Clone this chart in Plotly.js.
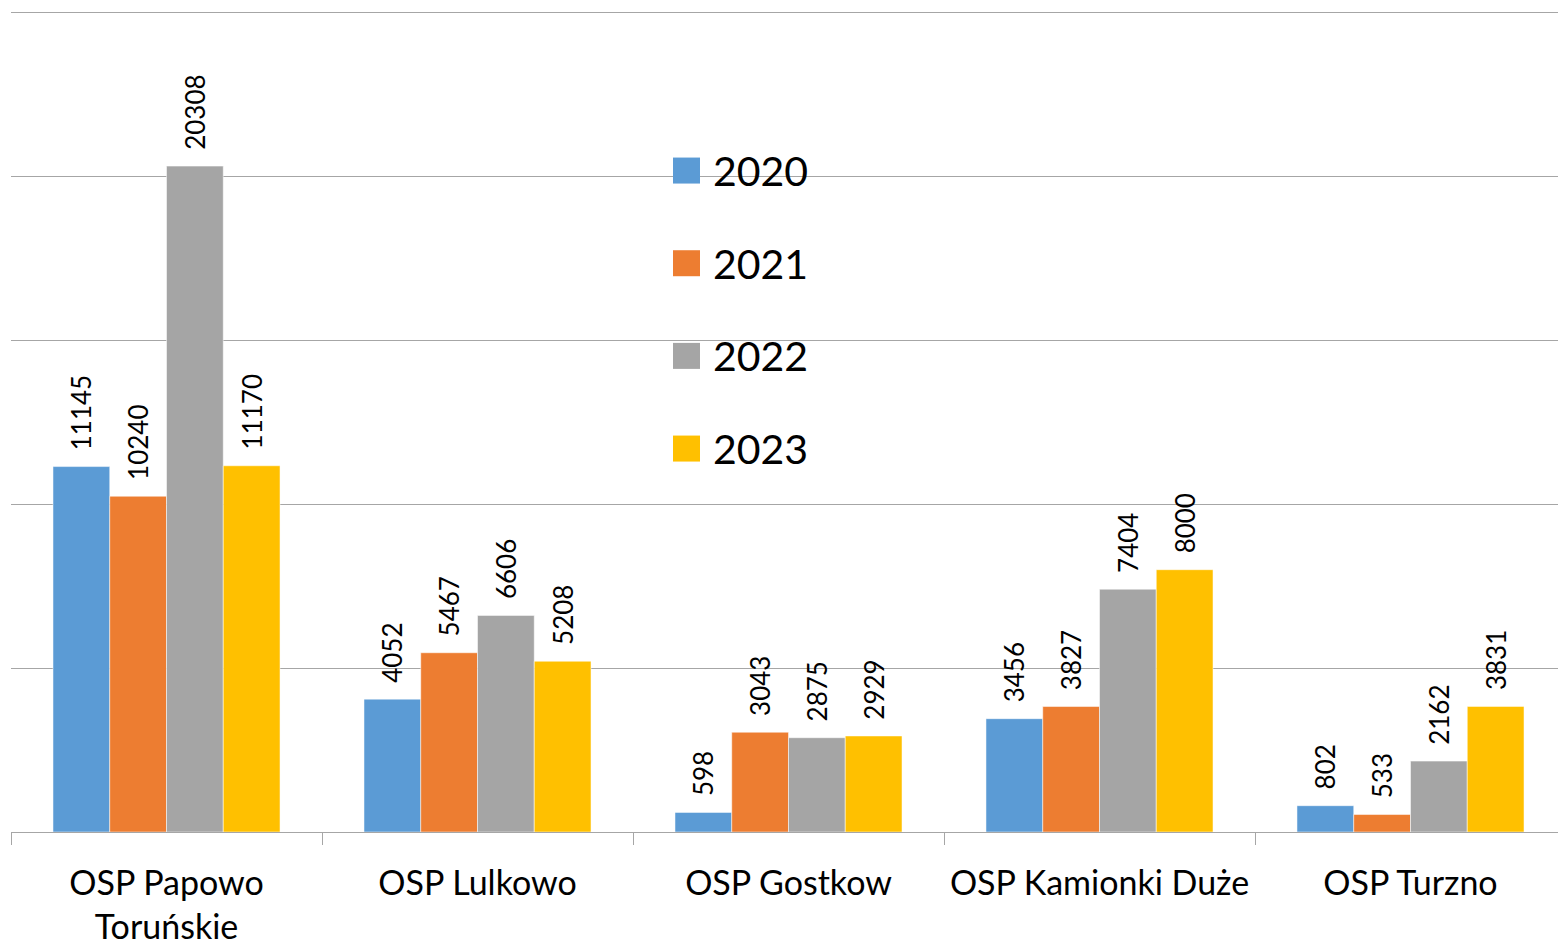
<!DOCTYPE html>
<html>
<head>
<meta charset="utf-8">
<script src="https://cdn.plot.ly/plotly-3.0.1.min.js"></script>
<style>
  html, body { margin: 0; padding: 0; background: #fff; overflow: hidden; }
  #chart { width: 1558px; height: 942px; overflow: hidden; }
</style>
</head>
<body>
<div id="chart"></div>
<script>
var categories = ['OSP Papowo<br>Toruńskie', 'OSP Lulkowo', 'OSP Gostkow', 'OSP Kamionki Duże', 'OSP Turzno'];
var years = ['2020', '2021', '2022', '2023'];
var colors = ['#5b9bd5', '#ed7d31', '#a5a5a5', '#ffc000'];
var values2020 = [11145, 4052, 598, 3456, 802];
var values2021 = [10240, 5467, 3043, 3827, 533];
var values2022 = [20308, 6606, 2875, 7404, 2162];
var values2023 = [11170, 5208, 2929, 8000, 3831];
var series = [values2020, values2021, values2022, values2023];

var font = 'Lato, "Noto Sans", sans-serif';
var gridColor = '#a6a6a6';

var traces = [];
for (var i = 0; i < series.length; i++) {
  traces.push({
    type: 'bar',
    name: years[i],
    x: categories,
    y: series[i],
    text: series[i].map(String),
    texttemplate: '\u00a0\u00a0%{text}',
    textposition: 'outside',
    textangle: -90,
    constraintext: 'none',
    textfont: { family: font, size: 26, color: '#000' },
    cliponaxis: false,
    marker: { color: colors[i], line: { color: 'rgba(255,255,255,0.5)', width: 1 } },
    showlegend: false
  });
}

// legend drawn as big squares + labels
var shapes = [], annotations = [];
var legX = 662 / 1555, legTextX = 700 / 1555, legTop = 0.8037, legStep = 0.1126;
for (var i = 0; i < years.length; i++) {
  var yy = legTop - i * legStep;
  shapes.push({
    type: 'rect', xref: 'paper', yref: 'paper',
    xsizemode: 'pixel', ysizemode: 'pixel',
    xanchor: legX, yanchor: yy,
    x0: 0, x1: 27, y0: -13, y1: 13,
    fillcolor: colors[i], line: { width: 0 }
  });
  annotations.push({
    xref: 'paper', yref: 'paper', x: legTextX, y: yy,
    xanchor: 'left', yanchor: 'middle', showarrow: false,
    text: years[i], font: { family: font, size: 41, color: '#000' }
  });
}

var layout = {
  width: 1566, height: 942,
  margin: { l: 11, r: 0, t: 9, b: 110 },
  paper_bgcolor: '#fff', plot_bgcolor: '#fff',
  barmode: 'group',
  bargap: 0.27,
  bargroupgap: 0,
  showlegend: false,
  font: { family: font, color: '#000' },
  xaxis: {
    type: 'category',
    showline: true, linecolor: gridColor, linewidth: 1,
    ticks: 'outside', tickson: 'boundaries', ticklen: 12, tickcolor: gridColor, tickwidth: 1,
    tickfont: { family: font, size: 34, color: '#000' },
    ticklabelstandoff: 21,
    showgrid: false
  },
  yaxis: {
    range: [0, 25100], tickvals: [5000, 10000, 15000, 20000, 25000],
    showticklabels: false, showline: false, zeroline: false,
    showgrid: true, gridcolor: gridColor, gridwidth: 1,
    ticks: ''
  },
  shapes: shapes,
  annotations: annotations
};

Plotly.newPlot('chart', traces, layout, { displayModeBar: false, staticPlot: true });
</script>
</body>
</html>
